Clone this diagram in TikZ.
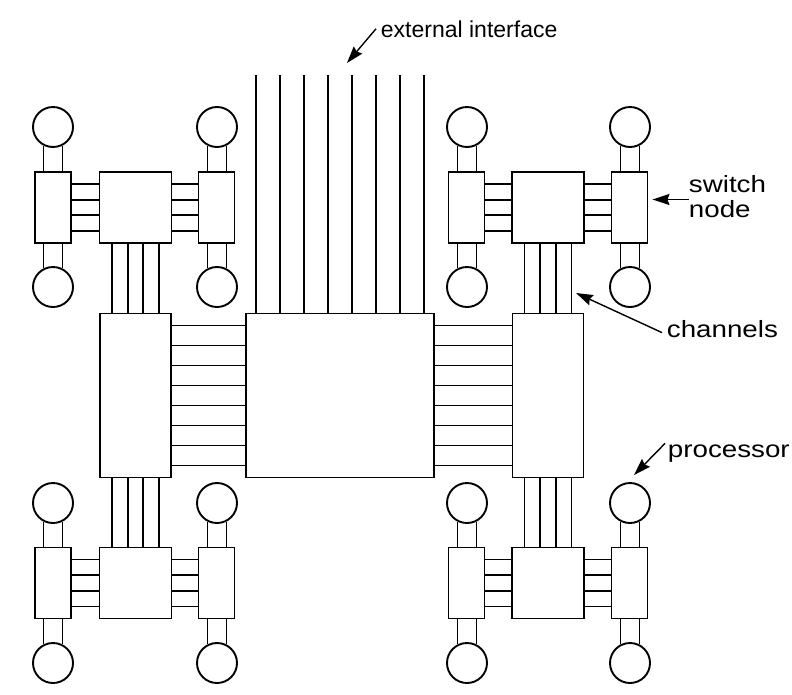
\documentclass[tikz,border=0pt]{standalone}
\usepackage{fontspec}
\setmainfont{Liberation Sans}
\newfontfamily\widesans[FakeStretch=1.18]{Liberation Sans}
\usetikzlibrary{arrows.meta}

\begin{document}
\begin{tikzpicture}[x=1pt, y=-1pt, line width=1.9pt,
		proc/.style={draw, circle, minimum size=40pt, inner sep=0pt},
		sw/.style={draw, minimum width=36pt, minimum height=71pt, inner sep=0pt},
		hub/.style={draw, minimum width=72pt, minimum height=71pt, inner sep=0pt},
		bigsw/.style={draw, minimum width=71pt, minimum height=164pt, inner sep=0pt},
		lbl/.style={inner sep=0pt, align=left, font=\widesans\fontsize{23.5}{25}\selectfont},
		pointer/.style={line width=1.4pt, -{Stealth[length=17pt, width=11pt, inset=2pt]}}]
			\useasboundingbox (0,0) rectangle (792,694);
			
			% Cluster a - top left
			\node[proc] (Pa1) at (53,127) {};
			\node[proc] (Pa2) at (217,127) {};
			\node[proc] (Pa3) at (53,287) {};
			\node[proc] (Pa4) at (217,287) {};
			\node[sw] (Sa1) at (53,207.5) {};
			\node[hub] (Ha) at (135.5,207.5) {};
			\node[sw] (Sa2) at (216.5,207.5) {};
			
			% Cluster b - top right
			\node[proc] (Pb1) at (467,127) {};
			\node[proc] (Pb2) at (630,127) {};
			\node[proc] (Pb3) at (467,287) {};
			\node[proc] (Pb4) at (630,287) {};
			\node[sw] (Sb1) at (466.5,207.5) {};
			\node[hub] (Hb) at (548,207.5) {};
			\node[sw] (Sb2) at (629.5,207.5) {};
			
			% Cluster c - bottom left
			\node[proc] (Pc1) at (53,503) {};
			\node[proc] (Pc2) at (217,503) {};
			\node[proc] (Pc3) at (53,663) {};
			\node[proc] (Pc4) at (217,663) {};
			\node[sw] (Sc1) at (53,583) {};
			\node[hub] (Hc) at (135.5,583) {};
			\node[sw] (Sc2) at (216.5,583) {};
			
			% Cluster d - bottom right
			\node[proc] (Pd1) at (467,503) {};
			\node[proc] (Pd2) at (630,503) {};
			\node[proc] (Pd3) at (467,663) {};
			\node[proc] (Pd4) at (630,663) {};
			\node[sw] (Sd1) at (466.5,583) {};
			\node[hub] (Hd) at (548,583) {};
			\node[sw] (Sd2) at (629.5,583) {};
			
			% Middle row
			\node[bigsw] (L) at (135.5,395.5) {};
			\node[draw, inner sep=0pt, minimum width=188pt, minimum height=164pt] (C) at (340,395.5) {};
			\node[bigsw] (R) at (548,395.5) {};
			\coordinate (ext) at (340,75);
			
			% Processors to switches
			\foreach \p/\s in {Pa1/Sa1, Pa2/Sa2, Pb1/Sb1, Pb2/Sb2, Pc1/Sc1, Pc2/Sc2, Pd1/Sd1, Pd2/Sd2} {
				\draw (\p.243) -- (\p.243 |- \s.north); \draw (\p.297) -- (\p.297 |- \s.north);
			}
			\foreach \p/\s in {Pa3/Sa1, Pa4/Sa2, Pb3/Sb1, Pb4/Sb2, Pc3/Sc1, Pc4/Sc2, Pd3/Sd1, Pd4/Sd2} {
				\draw (\p.117) -- (\p.117 |- \s.south); \draw (\p.63) -- (\p.63 |- \s.south);
			}
			
			% Channels inside each cluster
			\foreach \c in {a,b,c,d}
				\foreach \k in {-23.5,-7.8,7.8,23.5} {
					\draw ([yshift=\k pt]S\c1.east) -- ([yshift=\k pt]H\c.west);
					\draw ([yshift=\k pt]H\c.east) -- ([yshift=\k pt]S\c2.west);
				}
			
			% Channels to the middle row
			\foreach \k in {-23.5,-7.8,7.8,23.5} {
				\draw ([xshift=\k pt]Ha.south) -- ([xshift=\k pt]L.north); \draw ([xshift=\k pt]Hb.south) -- ([xshift=\k pt]R.north);
				\draw ([xshift=\k pt]Hc.north) -- ([xshift=\k pt]L.south); \draw ([xshift=\k pt]Hd.north) -- ([xshift=\k pt]R.south);
			}
			\foreach \k in {-70,-50,...,70} {
				\draw ([yshift=\k pt]L.east) -- ([yshift=\k pt]C.west); \draw ([yshift=\k pt]C.east) -- ([yshift=\k pt]R.west);
			}
			\foreach \k in {-84,-60,...,84} \draw ([xshift=\k pt]C.north) -- ([xshift=\k pt]ext);
			
			% Labels
			\node[lbl, anchor=base west, font=\fontsize{23}{25}\selectfont] (Tex) at (380,37) {external interface};
			\node[lbl, anchor=west] (Tsw) at (688,196.5) {switch\\node};
			\node[lbl, anchor=base west] (Tch) at (666,337) {channels};
			\node[lbl, anchor=base west] (Tpr) at (667,457) {processor};
			\coordinate (chtip) at (576,293);
			\coordinate (extip) at (347,63);
			\draw[pointer] ([xshift=-4pt]Tex.west) -- (extip);
			\draw[pointer] ([xshift=1pt, yshift=-3pt]Tsw.west) -- ([xshift=4pt, yshift=8pt]Sb2.east);
			\draw[pointer] ([xshift=-4pt, yshift=-4pt]Tch.west) -- (chtip);
			\draw[pointer] ([xshift=-2pt]Tpr.north west) -- ([xshift=4pt, yshift=7pt]Pd2.north);
		\end{tikzpicture}
\end{document}
